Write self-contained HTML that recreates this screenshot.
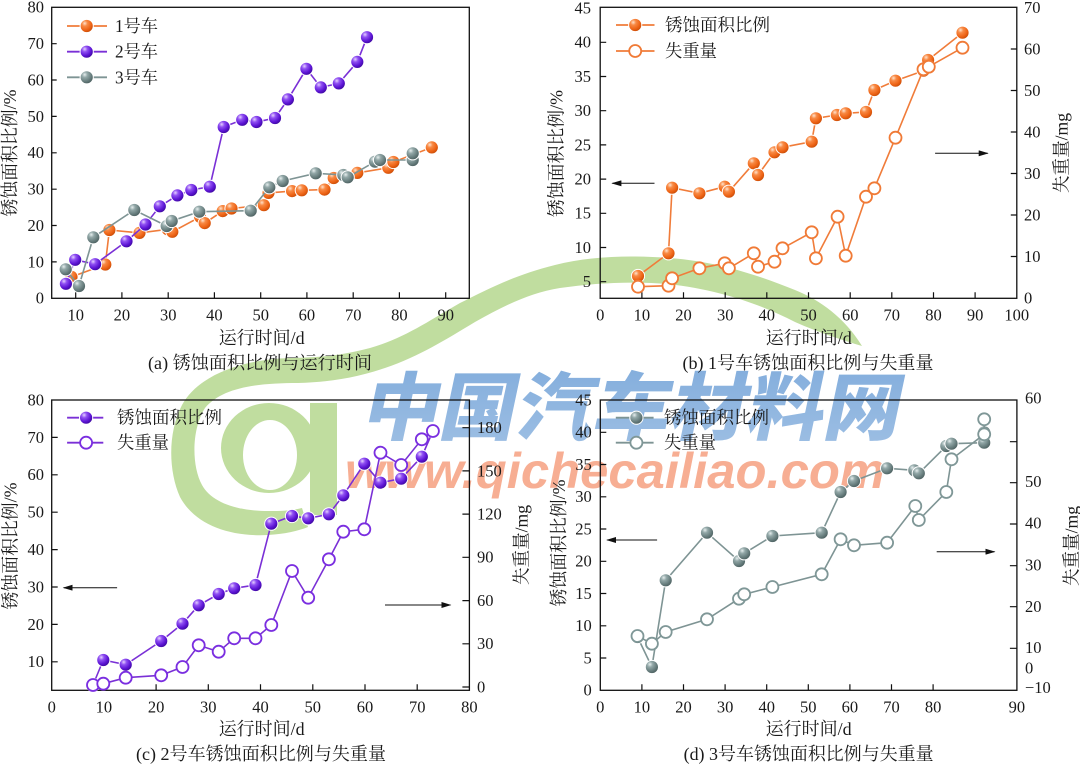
<!DOCTYPE html>
<html><head><meta charset="utf-8">
<style>
html,body{margin:0;padding:0;background:#fff;}
svg{display:block;}
.t{font-family:"Liberation Serif","Noto Serif CJK SC",serif;fill:#1a1a1a;}
.n{font-family:"Liberation Serif",serif;font-size:16.5px;fill:#1a1a1a;}
</style></head>
<body>
<svg width="1080" height="766" viewBox="0 0 1080 766" xmlns="http://www.w3.org/2000/svg">
<defs>
<radialGradient id="go" cx="35%" cy="30%" r="70%">
<stop offset="0" stop-color="#ffe2cc"/><stop offset="0.3" stop-color="#f88a45"/><stop offset="0.72" stop-color="#ee6416"/><stop offset="1" stop-color="#cc4e08"/></radialGradient>
<radialGradient id="gp" cx="35%" cy="30%" r="70%">
<stop offset="0" stop-color="#e4d0ff"/><stop offset="0.3" stop-color="#9050f2"/><stop offset="0.72" stop-color="#5c14d4"/><stop offset="1" stop-color="#400aa2"/></radialGradient>
<radialGradient id="gg" cx="35%" cy="30%" r="70%">
<stop offset="0" stop-color="#e6eeee"/><stop offset="0.3" stop-color="#93a8a8"/><stop offset="0.72" stop-color="#687e7e"/><stop offset="1" stop-color="#4e6262"/></radialGradient>
<linearGradient id="bl" x1="0" y1="0" x2="0" y2="1">
<stop offset="0" stop-color="#7eaadb"/><stop offset="1" stop-color="#9fc0e4"/></linearGradient>
<marker id="ah" markerWidth="10" markerHeight="6" refX="9" refY="3" orient="auto" markerUnits="userSpaceOnUse"><path d="M0,0 L10,3 L0,6 z" fill="#111"/></marker>
</defs>

<!-- watermark -->
<g>
<path fill="#c0dd9f" d="M862,346 C845,318 820,300 795,290 C760,276 720,262 670,258 C630,255 590,256 555,265 C515,275 490,288 460,303 C430,320 405,338 370,348 C340,356 320,357 295,358 C250,358 200,372 182,405 C168,432 168,470 180,497 C195,525 230,537 268,535 C285,534 298,531 308,527 L302,508 C290,511 280,511 268,511 C238,511 212,503 202,485 C191,465 192,428 205,408 C222,388 255,383 298,383 C330,382 355,378 385,368 C420,356 445,340 475,322 C505,305 530,293 560,288 C595,283 630,281 668,284 C720,290 760,304 795,322 C820,333 842,340 862,346 Z"/>
<path fill="#c0dd9f" fill-rule="evenodd" d="M221,448 A48,45 0 1,0 317,448 A48,45 0 1,0 221,448 Z M243,455 A27,35 0 1,1 297,455 A27,35 0 1,1 243,455 Z"/>
<rect x="310" y="403" width="27" height="112" fill="#c0dd9f"/>
<g transform="translate(360,434) skewX(-12)">
<text x="0" y="0" font-family="'Noto Sans CJK SC',sans-serif" font-weight="900" font-size="74" fill="url(#bl)" textLength="538" lengthAdjust="spacingAndGlyphs">中国汽车材料网</text>
</g>
<text x="345" y="488" font-family="'Liberation Sans',sans-serif" font-weight="bold" font-style="italic" font-size="50" fill="#f7ae93" textLength="540" lengthAdjust="spacingAndGlyphs">www.qichecailiao.com</text>
</g>

<!-- ================= Panel (a) ================= -->
<g>
<rect x="51.7" y="7.3" width="417.6" height="291" fill="none" stroke="#111" stroke-width="1.3"/>
<path stroke="#111" stroke-width="1.2" fill="none" d="M75.7 298.3v-6M121.9 298.3v-6M168.2 298.3v-6M214.4 298.3v-6M260.7 298.3v-6M306.9 298.3v-6M353.2 298.3v-6M399.4 298.3v-6M445.7 298.3v-6M51.7 261.9h5M51.7 225.5h5M51.7 189.2h5M51.7 152.8h5M51.7 116.4h5M51.7 80h5M51.7 43.7h5"/>
<g class="n" text-anchor="end">
<text x="44" y="303.7">0</text><text x="44" y="267.3">10</text><text x="44" y="230.9">20</text><text x="44" y="194.6">30</text><text x="44" y="158.2">40</text><text x="44" y="121.8">50</text><text x="44" y="85.4">60</text><text x="44" y="49.1">70</text><text x="44" y="12.7">80</text>
</g>
<g class="n" text-anchor="middle">
<text x="75.7" y="320.5">10</text><text x="121.9" y="320.5">20</text><text x="168.2" y="320.5">30</text><text x="214.4" y="320.5">40</text><text x="260.7" y="320.5">50</text><text x="306.9" y="320.5">60</text><text x="353.2" y="320.5">70</text><text x="399.4" y="320.5">80</text><text x="445.7" y="320.5">90</text>
</g>
<text class="t" font-size="18" text-anchor="middle" dominant-baseline="central" transform="translate(10,153) rotate(-90)" textLength="127" lengthAdjust="spacingAndGlyphs">锈蚀面积比例/%</text>
<text class="t" font-size="18" text-anchor="middle" dominant-baseline="central" x="261.7" y="338" textLength="86" lengthAdjust="spacingAndGlyphs">运行时间/d</text>
<text class="t" font-size="18" text-anchor="middle" dominant-baseline="central" x="260" y="363" textLength="224" lengthAdjust="spacingAndGlyphs">(a) 锈蚀面积比例与运行时间</text>

<polyline fill="none" stroke="#f07c3a" stroke-width="1.6" points="71.5,276.9 105.3,264.5 109.4,230 139.5,232.9 167.7,229.3 172.3,231.8 200.1,216.9 204.7,223.1 222.7,211.1 231.5,208.5 263.9,205.2 268.5,192.9 292.1,191.1 301.8,190.3 324.5,189.6 333.7,178 357.3,172.9 388.3,167.8 393.4,162 431.8,147.4"/>
<g fill="url(#go)" stroke="#fff" stroke-width="1">
<circle cx="71.5" cy="276.9" r="6.6"/><circle cx="105.3" cy="264.5" r="6.6"/><circle cx="109.4" cy="230" r="6.6"/><circle cx="139.5" cy="232.9" r="6.6"/><circle cx="167.7" cy="229.3" r="6.6"/><circle cx="172.3" cy="231.8" r="6.6"/><circle cx="200.1" cy="216.9" r="6.6"/><circle cx="204.7" cy="223.1" r="6.6"/><circle cx="222.7" cy="211.1" r="6.6"/><circle cx="231.5" cy="208.5" r="6.6"/><circle cx="263.9" cy="205.2" r="6.6"/><circle cx="268.5" cy="192.9" r="6.6"/><circle cx="292.1" cy="191.1" r="6.6"/><circle cx="301.8" cy="190.3" r="6.6"/><circle cx="324.5" cy="189.6" r="6.6"/><circle cx="333.7" cy="178" r="6.6"/><circle cx="357.3" cy="172.9" r="6.6"/><circle cx="388.3" cy="167.8" r="6.6"/><circle cx="393.4" cy="162" r="6.6"/><circle cx="431.8" cy="147.4" r="6.6"/>
</g>
<polyline fill="none" stroke="#7a30d6" stroke-width="1.6" points="65.9,283.8 75.2,259.8 95.1,264.2 126.5,241.3 145.5,224.5 159.8,206.3 177.4,195.4 191.3,190 209.8,186.7 223.7,127 242.2,119.8 256.5,122 275,118 287.9,99.4 306.4,68.8 320.8,87.4 338.8,83.4 357.3,61.9 367,37.2"/>
<g fill="url(#gp)" stroke="#fff" stroke-width="1">
<circle cx="65.9" cy="283.8" r="6.6"/><circle cx="75.2" cy="259.8" r="6.6"/><circle cx="95.1" cy="264.2" r="6.6"/><circle cx="126.5" cy="241.3" r="6.6"/><circle cx="145.5" cy="224.5" r="6.6"/><circle cx="159.8" cy="206.3" r="6.6"/><circle cx="177.4" cy="195.4" r="6.6"/><circle cx="191.3" cy="190" r="6.6"/><circle cx="209.8" cy="186.7" r="6.6"/><circle cx="223.7" cy="127" r="6.6"/><circle cx="242.2" cy="119.8" r="6.6"/><circle cx="256.5" cy="122" r="6.6"/><circle cx="275" cy="118" r="6.6"/><circle cx="287.9" cy="99.4" r="6.6"/><circle cx="306.4" cy="68.8" r="6.6"/><circle cx="320.8" cy="87.4" r="6.6"/><circle cx="338.8" cy="83.4" r="6.6"/><circle cx="357.3" cy="61.9" r="6.6"/><circle cx="367" cy="37.2" r="6.6"/>
</g>
<polyline fill="none" stroke="#7e9494" stroke-width="1.6" points="65.7,269.3 79,286 93.3,237.3 134.3,210 166.7,226 171.7,221 199.3,211.7 250.7,210.7 269.3,187.3 282.7,181 315.7,173.3 343.3,175 347.7,177.3 375,161.7 380,160 412.7,160 412.7,153.3"/>
<g fill="url(#gg)" stroke="#fff" stroke-width="1">
<circle cx="65.7" cy="269.3" r="6.6"/><circle cx="79" cy="286" r="6.6"/><circle cx="93.3" cy="237.3" r="6.6"/><circle cx="134.3" cy="210" r="6.6"/><circle cx="166.7" cy="226" r="6.6"/><circle cx="171.7" cy="221" r="6.6"/><circle cx="199.3" cy="211.7" r="6.6"/><circle cx="250.7" cy="210.7" r="6.6"/><circle cx="269.3" cy="187.3" r="6.6"/><circle cx="282.7" cy="181" r="6.6"/><circle cx="315.7" cy="173.3" r="6.6"/><circle cx="343.3" cy="175" r="6.6"/><circle cx="347.7" cy="177.3" r="6.6"/><circle cx="375" cy="161.7" r="6.6"/><circle cx="380" cy="160" r="6.6"/><circle cx="412.7" cy="160" r="6.6"/><circle cx="412.7" cy="153.3" r="6.6"/>
</g>
<!-- legend a -->
<path d="M67 26H107" stroke="#f07c3a" stroke-width="1.8"/><circle cx="86.7" cy="26" r="6.6" fill="url(#go)" stroke="#fff" stroke-width="1"/>
<path d="M67 51.7H107" stroke="#7a30d6" stroke-width="1.8"/><circle cx="86.7" cy="51.7" r="6.6" fill="url(#gp)" stroke="#fff" stroke-width="1"/>
<path d="M67 77.3H107" stroke="#7e9494" stroke-width="1.8"/><circle cx="86.7" cy="77.3" r="6.6" fill="url(#gg)" stroke="#fff" stroke-width="1"/>
<g class="t" font-size="17.5" dominant-baseline="central">
<text x="115" y="26" textLength="43" lengthAdjust="spacingAndGlyphs">1号车</text>
<text x="115" y="51.7" textLength="43" lengthAdjust="spacingAndGlyphs">2号车</text>
<text x="115" y="77.3" textLength="43" lengthAdjust="spacingAndGlyphs">3号车</text>
</g>
</g>

<!-- ================= Panel (b) ================= -->
<g>
<rect x="600.2" y="7.3" width="416.6" height="291" fill="none" stroke="#111" stroke-width="1.3"/>
<path stroke="#111" stroke-width="1.2" fill="none" d="M641.9 298.3v-6M683.5 298.3v-6M725.2 298.3v-6M766.8 298.3v-6M808.5 298.3v-6M850.2 298.3v-6M891.8 298.3v-6M933.5 298.3v-6M975.1 298.3v-6M600.2 42.3h6M600.2 76.5h6M600.2 110.7h6M600.2 144.9h6M600.2 179.1h6M600.2 213.3h6M600.2 247.5h6M600.2 281.7h6M1016.8 49h-6M1016.8 90.5h-6M1016.8 132h-6M1016.8 173.5h-6M1016.8 215h-6M1016.8 256.5h-6"/>
<g class="n" text-anchor="end">
<text x="591" y="13.5">45</text><text x="591" y="47.7">40</text><text x="591" y="81.9">35</text><text x="591" y="116.1">30</text><text x="591" y="150.3">25</text><text x="591" y="184.5">20</text><text x="591" y="218.7">15</text><text x="591" y="252.9">10</text><text x="591" y="287.1">5</text>
</g>
<g class="n" text-anchor="start">
<text x="1024" y="13.1">70</text><text x="1024" y="54.4">60</text><text x="1024" y="95.9">50</text><text x="1024" y="137.4">40</text><text x="1024" y="178.9">30</text><text x="1024" y="220.4">20</text><text x="1024" y="261.9">10</text><text x="1024" y="303.4">0</text>
</g>
<g class="n" text-anchor="middle">
<text x="600.2" y="320.5">0</text><text x="641.9" y="320.5">10</text><text x="683.5" y="320.5">20</text><text x="725.2" y="320.5">30</text><text x="766.8" y="320.5">40</text><text x="808.5" y="320.5">50</text><text x="850.2" y="320.5">60</text><text x="891.8" y="320.5">70</text><text x="933.5" y="320.5">80</text><text x="975.1" y="320.5">90</text><text x="1016.8" y="320.5">100</text>
</g>
<text class="t" font-size="18" text-anchor="middle" dominant-baseline="central" transform="translate(556.3,153.5) rotate(-90)" textLength="127" lengthAdjust="spacingAndGlyphs">锈蚀面积比例/%</text>
<text class="t" font-size="18" text-anchor="middle" dominant-baseline="central" transform="translate(1061.4,153) rotate(-90)" textLength="80" lengthAdjust="spacingAndGlyphs">失重量/mg</text>
<text class="t" font-size="18" text-anchor="middle" dominant-baseline="central" x="808.8" y="338" textLength="86" lengthAdjust="spacingAndGlyphs">运行时间/d</text>
<text class="t" font-size="18" text-anchor="middle" dominant-baseline="central" x="808" y="363" textLength="251" lengthAdjust="spacingAndGlyphs">(b) 1号车锈蚀面积比例与失重量</text>
<line x1="654.5" y1="183.3" x2="612.4" y2="183.3" stroke="#111" stroke-width="1" marker-end="url(#ah)"/>
<line x1="935.1" y1="153.3" x2="987.7" y2="153.3" stroke="#111" stroke-width="1" marker-end="url(#ah)"/>

<polyline fill="none" stroke="#f07c3a" stroke-width="1.6" points="638.0,276 668.5,253.3 672.1,187.7 699.4,193.3 724.7,186.7 728.9,191.7 753.8,163.3 758.0,175 774.5,152.3 782.5,147.3 811.7,141.7 815.9,118.3 836.9,115 845.7,113.3 866.0,112 874.4,90 895.5,80.7 923.5,70.7 928.1,60 962.5,32.7"/>
<g fill="url(#go)" stroke="#fff" stroke-width="1">
<circle cx="638.0" cy="276" r="6.6"/><circle cx="668.5" cy="253.3" r="6.6"/><circle cx="672.1" cy="187.7" r="6.6"/><circle cx="699.4" cy="193.3" r="6.6"/><circle cx="724.7" cy="186.7" r="6.6"/><circle cx="728.9" cy="191.7" r="6.6"/><circle cx="753.8" cy="163.3" r="6.6"/><circle cx="758.0" cy="175" r="6.6"/><circle cx="774.5" cy="152.3" r="6.6"/><circle cx="782.5" cy="147.3" r="6.6"/><circle cx="811.7" cy="141.7" r="6.6"/><circle cx="815.9" cy="118.3" r="6.6"/><circle cx="836.9" cy="115" r="6.6"/><circle cx="845.7" cy="113.3" r="6.6"/><circle cx="866.0" cy="112" r="6.6"/><circle cx="874.4" cy="90" r="6.6"/><circle cx="895.5" cy="80.7" r="6.6"/><circle cx="923.5" cy="70.7" r="6.6"/><circle cx="928.1" cy="60" r="6.6"/><circle cx="962.5" cy="32.7" r="6.6"/>
</g>
<polyline fill="none" stroke="#f07c3a" stroke-width="1.6" points="638.0,286.7 668.5,285.7 672.1,278.3 699.4,268.3 724.7,263.3 728.9,268.3 753.8,253.3 758.0,266.7 774.5,261.7 782.5,248.3 811.7,232.3 815.9,258.3 837.6,216.7 845.7,255.7 866.0,196.7 874.4,188.3 895.5,137.7 923.5,69.3 928.8,66.7 962.5,47.7"/>
<g fill="#fff" stroke="#f07a36" stroke-width="1.8">
<circle cx="638.0" cy="286.7" r="6"/><circle cx="668.5" cy="285.7" r="6"/><circle cx="672.1" cy="278.3" r="6"/><circle cx="699.4" cy="268.3" r="6"/><circle cx="724.7" cy="263.3" r="6"/><circle cx="728.9" cy="268.3" r="6"/><circle cx="753.8" cy="253.3" r="6"/><circle cx="758.0" cy="266.7" r="6"/><circle cx="774.5" cy="261.7" r="6"/><circle cx="782.5" cy="248.3" r="6"/><circle cx="811.7" cy="232.3" r="6"/><circle cx="815.9" cy="258.3" r="6"/><circle cx="837.6" cy="216.7" r="6"/><circle cx="845.7" cy="255.7" r="6"/><circle cx="866.0" cy="196.7" r="6"/><circle cx="874.4" cy="188.3" r="6"/><circle cx="895.5" cy="137.7" r="6"/><circle cx="923.5" cy="69.3" r="6"/><circle cx="928.8" cy="66.7" r="6"/><circle cx="962.5" cy="47.7" r="6"/>
</g>
<path d="M616 25H654.5" stroke="#f07c3a" stroke-width="1.8"/><circle cx="635.2" cy="25" r="6.6" fill="url(#go)" stroke="#fff" stroke-width="1"/>
<path d="M616 51H654.5" stroke="#f07c3a" stroke-width="1.8"/><circle cx="635.2" cy="51" r="6" fill="#fff" stroke="#f07a36" stroke-width="1.8"/>
<g class="t" font-size="17.5" dominant-baseline="central">
<text x="665" y="25" textLength="105" lengthAdjust="spacingAndGlyphs">锈蚀面积比例</text>
<text x="665" y="51" textLength="52" lengthAdjust="spacingAndGlyphs">失重量</text>
</g>
</g>

<!-- ================= Panel (c) ================= -->
<g>
<rect x="51.7" y="400" width="417.7" height="290.3" fill="none" stroke="#111" stroke-width="1.3"/>
<path stroke="#111" stroke-width="1.2" fill="none" d="M103.9 690.3v-6M156.1 690.3v-6M208.3 690.3v-6M260.5 690.3v-6M312.8 690.3v-6M365 690.3v-6M417.2 690.3v-6M51.7 437.4h6M51.7 474.8h6M51.7 512.2h6M51.7 549.6h6M51.7 587h6M51.7 624.4h6M51.7 661.8h6M469.4 427.7h-7M469.4 470.9h-7M469.4 514.1h-7M469.4 557.3h-7M469.4 600.6h-7M469.4 643.8h-7M469.4 687h-7"/>
<g class="n" text-anchor="end">
<text x="44" y="405.4">80</text><text x="44" y="442.8">70</text><text x="44" y="480.2">60</text><text x="44" y="517.6">50</text><text x="44" y="555">40</text><text x="44" y="592.4">30</text><text x="44" y="629.8">20</text><text x="44" y="667.2">10</text>
</g>
<g class="n" text-anchor="start">
<text x="477" y="433.1">180</text><text x="477" y="476.3">150</text><text x="477" y="519.5">120</text><text x="477" y="562.7">90</text><text x="477" y="606">60</text><text x="477" y="649.2">30</text><text x="477" y="692.4">0</text>
</g>
<g class="n" text-anchor="middle">
<text x="51.7" y="712.5">0</text><text x="103.9" y="712.5">10</text><text x="156.1" y="712.5">20</text><text x="208.3" y="712.5">30</text><text x="260.5" y="712.5">40</text><text x="312.8" y="712.5">50</text><text x="365" y="712.5">60</text><text x="417.2" y="712.5">70</text><text x="469.4" y="712.5">80</text>
</g>
<text class="t" font-size="18" text-anchor="middle" dominant-baseline="central" transform="translate(10.3,546) rotate(-90)" textLength="127" lengthAdjust="spacingAndGlyphs">锈蚀面积比例/%</text>
<text class="t" font-size="18" text-anchor="middle" dominant-baseline="central" transform="translate(521.7,545) rotate(-90)" textLength="80" lengthAdjust="spacingAndGlyphs">失重量/mg</text>
<text class="t" font-size="18" text-anchor="middle" dominant-baseline="central" x="261.7" y="729" textLength="86" lengthAdjust="spacingAndGlyphs">运行时间/d</text>
<text class="t" font-size="18" text-anchor="middle" dominant-baseline="central" x="261" y="754" textLength="250" lengthAdjust="spacingAndGlyphs">(c) 2号车锈蚀面积比例与失重量</text>
<line x1="117.1" y1="587.7" x2="63.7" y2="587.7" stroke="#111" stroke-width="1" marker-end="url(#ah)"/>
<line x1="385" y1="605" x2="450.4" y2="605" stroke="#111" stroke-width="1" marker-end="url(#ah)"/>

<polyline fill="none" stroke="#7a30d6" stroke-width="1.6" points="93.0,685 103.3,660 125.7,664.7 161.2,641 182.5,623.7 198.7,605.3 218.7,594 234.2,588.3 255.5,585 271.3,523.7 292.0,516 308.2,518.3 328.9,514.3 343.3,495.3 364.3,463.7 380.5,482.7 401.2,478.7 421.8,456.7 432.9,431"/>
<g fill="url(#gp)" stroke="#fff" stroke-width="1">
<circle cx="93.0" cy="685" r="6.6"/><circle cx="103.3" cy="660" r="6.6"/><circle cx="125.7" cy="664.7" r="6.6"/><circle cx="161.2" cy="641" r="6.6"/><circle cx="182.5" cy="623.7" r="6.6"/><circle cx="198.7" cy="605.3" r="6.6"/><circle cx="218.7" cy="594" r="6.6"/><circle cx="234.2" cy="588.3" r="6.6"/><circle cx="255.5" cy="585" r="6.6"/><circle cx="271.3" cy="523.7" r="6.6"/><circle cx="292.0" cy="516" r="6.6"/><circle cx="308.2" cy="518.3" r="6.6"/><circle cx="328.9" cy="514.3" r="6.6"/><circle cx="343.3" cy="495.3" r="6.6"/><circle cx="364.3" cy="463.7" r="6.6"/><circle cx="380.5" cy="482.7" r="6.6"/><circle cx="401.2" cy="478.7" r="6.6"/><circle cx="421.8" cy="456.7" r="6.6"/><circle cx="432.9" cy="431" r="6.6"/>
</g>
<polyline fill="none" stroke="#7a30d6" stroke-width="1.6" points="93.0,685 103.3,683.7 125.7,677.7 161.2,675.3 182.5,667 198.7,645.3 218.7,651.7 234.2,638.3 255.5,638.3 271.3,625 292.0,571 308.2,597.7 328.9,559.3 343.3,531.7 364.3,529.3 380.5,452.7 401.2,465 421.8,439.3 432.9,431"/>
<g fill="#fff" stroke="#7a2ee0" stroke-width="1.8">
<circle cx="93.0" cy="685" r="6"/><circle cx="103.3" cy="683.7" r="6"/><circle cx="125.7" cy="677.7" r="6"/><circle cx="161.2" cy="675.3" r="6"/><circle cx="182.5" cy="667" r="6"/><circle cx="198.7" cy="645.3" r="6"/><circle cx="218.7" cy="651.7" r="6"/><circle cx="234.2" cy="638.3" r="6"/><circle cx="255.5" cy="638.3" r="6"/><circle cx="271.3" cy="625" r="6"/><circle cx="292.0" cy="571" r="6"/><circle cx="308.2" cy="597.7" r="6"/><circle cx="328.9" cy="559.3" r="6"/><circle cx="343.3" cy="531.7" r="6"/><circle cx="364.3" cy="529.3" r="6"/><circle cx="380.5" cy="452.7" r="6"/><circle cx="401.2" cy="465" r="6"/><circle cx="421.8" cy="439.3" r="6"/><circle cx="432.9" cy="431" r="6"/>
</g>
<path d="M67.1 417.7H103.3" stroke="#7a30d6" stroke-width="1.8"/><circle cx="86.1" cy="417.7" r="6.6" fill="url(#gp)" stroke="#fff" stroke-width="1"/>
<path d="M67.1 442.7H103.3" stroke="#7a30d6" stroke-width="1.8"/><circle cx="86.1" cy="442.7" r="6" fill="#fff" stroke="#7a2ee0" stroke-width="1.8"/>
<g class="t" font-size="17.5" dominant-baseline="central">
<text x="117" y="417.7" textLength="105" lengthAdjust="spacingAndGlyphs">锈蚀面积比例</text>
<text x="117" y="442.7" textLength="52" lengthAdjust="spacingAndGlyphs">失重量</text>
</g>
</g>

<!-- ================= Panel (d) ================= -->
<g>
<rect x="600.3" y="400" width="416.6" height="290.3" fill="none" stroke="#111" stroke-width="1.3"/>
<path stroke="#111" stroke-width="1.2" fill="none" d="M641.9 690.3v-6M683.5 690.3v-6M725.1 690.3v-6M766.7 690.3v-6M808.3 690.3v-6M849.9 690.3v-6M891.5 690.3v-6M933.1 690.3v-6M600.3 432.3h6M600.3 464.5h6M600.3 496.8h6M600.3 529h6M600.3 561.3h6M600.3 593.5h6M600.3 625.8h6M600.3 658h6M1016.9 441.7h-7M1016.9 482.7h-7M1016.9 524h-7M1016.9 565.7h-7M1016.9 606.7h-7M1016.9 648.3h-7"/>
<g class="n" text-anchor="end">
<text x="591.7" y="405.4">45</text><text x="591.7" y="437.7">40</text><text x="591.7" y="469.9">35</text><text x="591.7" y="502.2">30</text><text x="591.7" y="534.4">25</text><text x="591.7" y="566.7">20</text><text x="591.7" y="598.9">15</text><text x="591.7" y="631.2">10</text><text x="591.7" y="663.4">5</text><text x="591.7" y="695.7">0</text>
</g>
<g class="n" text-anchor="start">
<text x="1025" y="403.7">60</text><text x="1025" y="487.1">50</text><text x="1025" y="528.7">40</text><text x="1025" y="570.4">30</text><text x="1025" y="612.1">20</text><text x="1025" y="653.1">10</text><text x="1025" y="673.7">0</text><text x="1025" y="693.1">−10</text>
</g>
<g class="n" text-anchor="middle">
<text x="600.3" y="712.5">0</text><text x="641.9" y="712.5">10</text><text x="683.5" y="712.5">20</text><text x="725.1" y="712.5">30</text><text x="766.7" y="712.5">40</text><text x="808.3" y="712.5">50</text><text x="849.9" y="712.5">60</text><text x="891.5" y="712.5">70</text><text x="933.1" y="712.5">80</text><text x="1016.9" y="712.5">90</text>
</g>
<text class="t" font-size="18" text-anchor="middle" dominant-baseline="central" transform="translate(558.9,543) rotate(-90)" textLength="127" lengthAdjust="spacingAndGlyphs">锈蚀面积比例/%</text>
<text class="t" font-size="18" text-anchor="middle" dominant-baseline="central" transform="translate(1071.7,546) rotate(-90)" textLength="80" lengthAdjust="spacingAndGlyphs">失重量/mg</text>
<text class="t" font-size="18" text-anchor="middle" dominant-baseline="central" x="808.6" y="729" textLength="86" lengthAdjust="spacingAndGlyphs">运行时间/d</text>
<text class="t" font-size="18" text-anchor="middle" dominant-baseline="central" x="808.6" y="754" textLength="250" lengthAdjust="spacingAndGlyphs">(d) 3号车锈蚀面积比例与失重量</text>
<line x1="657.1" y1="540" x2="607.1" y2="540" stroke="#111" stroke-width="1" marker-end="url(#ah)"/>
<line x1="936.7" y1="551.7" x2="994.5" y2="551.7" stroke="#111" stroke-width="1" marker-end="url(#ah)"/>

<polyline fill="none" stroke="#7e9494" stroke-width="1.6" points="637.5,637 651.9,667 665.7,580.3 707.0,532.7 739.0,561 744.2,553.3 772.4,536 821.7,532.7 840.6,492 854.0,481 887.1,468.3 914.3,470.3 918.8,473.3 946.3,446 951.5,443.7 984.2,442.7 984.2,432.3"/>
<g fill="url(#gg)" stroke="#fff" stroke-width="1">
<circle cx="637.5" cy="637" r="6.6"/><circle cx="651.9" cy="667" r="6.6"/><circle cx="665.7" cy="580.3" r="6.6"/><circle cx="707.0" cy="532.7" r="6.6"/><circle cx="739.0" cy="561" r="6.6"/><circle cx="744.2" cy="553.3" r="6.6"/><circle cx="772.4" cy="536" r="6.6"/><circle cx="821.7" cy="532.7" r="6.6"/><circle cx="840.6" cy="492" r="6.6"/><circle cx="854.0" cy="481" r="6.6"/><circle cx="887.1" cy="468.3" r="6.6"/><circle cx="914.3" cy="470.3" r="6.6"/><circle cx="918.8" cy="473.3" r="6.6"/><circle cx="946.3" cy="446" r="6.6"/><circle cx="951.5" cy="443.7" r="6.6"/><circle cx="984.2" cy="442.7" r="6.6"/><circle cx="984.2" cy="432.3" r="6.6"/>
</g>
<polyline fill="none" stroke="#7e9494" stroke-width="1.6" points="637.5,636 651.9,643.7 665.7,632 707.0,619.3 739.0,598.7 744.2,594.3 772.4,587 821.7,574.3 840.6,539.3 854.0,545.3 887.1,542.7 915.3,506 918.8,520 946.3,492 951.5,459.3 984.2,434.3 984.2,419.3"/>
<g fill="#fff" stroke="#7f9797" stroke-width="1.8">
<circle cx="637.5" cy="636" r="6"/><circle cx="651.9" cy="643.7" r="6"/><circle cx="665.7" cy="632" r="6"/><circle cx="707.0" cy="619.3" r="6"/><circle cx="739.0" cy="598.7" r="6"/><circle cx="744.2" cy="594.3" r="6"/><circle cx="772.4" cy="587" r="6"/><circle cx="821.7" cy="574.3" r="6"/><circle cx="840.6" cy="539.3" r="6"/><circle cx="854.0" cy="545.3" r="6"/><circle cx="887.1" cy="542.7" r="6"/><circle cx="915.3" cy="506" r="6"/><circle cx="918.8" cy="520" r="6"/><circle cx="946.3" cy="492" r="6"/><circle cx="951.5" cy="459.3" r="6"/><circle cx="984.2" cy="434.3" r="6"/><circle cx="984.2" cy="419.3" r="6"/>
</g>
<path d="M615.8 417.7H653.6" stroke="#7e9494" stroke-width="1.8"/><circle cx="636.4" cy="417.7" r="6.6" fill="url(#gg)" stroke="#fff" stroke-width="1"/>
<path d="M615.8 442.7H653.6" stroke="#7e9494" stroke-width="1.8"/><circle cx="636.4" cy="442.7" r="6" fill="#fff" stroke="#7f9797" stroke-width="1.8"/>
<g class="t" font-size="17.5" dominant-baseline="central">
<text x="664" y="417.7" textLength="105" lengthAdjust="spacingAndGlyphs">锈蚀面积比例</text>
<text x="664" y="442.7" textLength="52" lengthAdjust="spacingAndGlyphs">失重量</text>
</g>
</g>
</svg>
</body></html>
